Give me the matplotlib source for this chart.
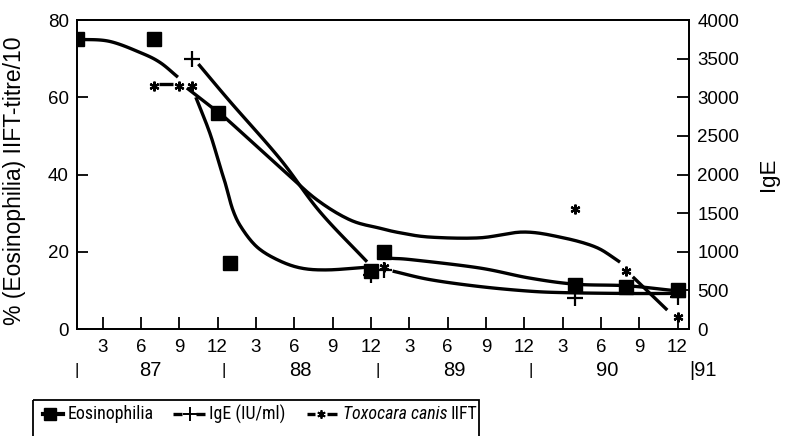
import matplotlib

matplotlib.use("Agg")
import matplotlib.pyplot as plt
import numpy as np
from matplotlib import font_manager
from matplotlib.patches import Rectangle
from matplotlib.transforms import blended_transform_factory

plt.rcParams["font.family"] = ["Liberation Sans", "DejaVu Sans"]

# x = months counted from Dec 1986 (1 = Jan 87, 48 = Dec 90)
EOS_MONTH = [1, 7, 12, 13, 24, 25, 40, 44, 48]
EOS_PCT = [75, 75, 56, 17, 15, 20, 11.5, 11, 10]
IGE_MONTH = [10, 24, 25, 40, 48]
IGE_IU = [3500, 700, 760, 400, 420]
TOXO_MONTH = [7, 9, 10, 25, 40, 44, 48]
TOXO_TITRE = [63, 63, 63, 16, 31, 15, 3]

# hand-drawn smoothed curves (broken at markers)
EOS_CURVES = [
    ([1, 3.5, 6, 7.5, 8.9], [75, 74.5, 71.5, 69, 65.2]),
    ([10.3, 11.4, 12.2, 12.6, 13.2, 13.9, 15.1, 16.7, 18.5, 20.6, 23.7],
     [60, 50.7, 42, 37.8, 30.8, 26.1, 21.2, 17.9, 15.8, 15.3, 16]),
    ([25.6, 27.3, 32.5, 36.4, 40, 44, 47.6], [18.3, 17.9, 15.8, 13.2, 11.6, 11.2, 10]),
]
IGE_CURVES = [
    ([10.5, 13, 16.9, 20, 23.7], [3430, 2940, 2200, 1520, 870]),
    ([25.7, 28.6, 32.5, 36.4, 39.3, 44, 47.6], [750, 640, 550, 490, 470, 460, 460]),
]
TOXO_CURVES = [
    ([7.4, 8.5], [63.4, 63.4]),
    ([9.6, 12, 12.8, 17.1, 19.8, 22.4, 24.7, 26.3, 28.6, 32.5, 35.9, 38.8, 41.6, 43.5],
     [62.4, 56.2, 54.1, 41.2, 33.4, 28.2, 26.1, 24.9, 23.8, 23.6, 25.1, 23.8, 21.2, 17.3]),
    ([44.5, 47.2], [13.5, 4.9]),
]

MONTH_TICKS = list(range(3, 49, 3))
YEAR_NAMES = ["87", "88", "89", "90"]
YEAR_MID = [6.75, 18.5, 30.5, 42.5]
YEAR_BREAKS = [12.5, 24.5, 36.5]

LW = 2.4
ASTERISK = (6, 2, 0)


def smooth(xs, ys, n=16):
    """Catmull-Rom through the traced knots, just for drawing."""
    p = np.column_stack([xs, ys]).astype(float)
    if len(p) < 3:
        return p[:, 0], p[:, 1]
    ext = np.vstack([2 * p[0] - p[1], p, 2 * p[-1] - p[-2]])
    t = np.linspace(0, 1, n, endpoint=False)[:, None]
    out = []
    for i in range(1, len(ext) - 2):
        p0, p1, p2, p3 = ext[i - 1], ext[i], ext[i + 1], ext[i + 2]
        out.append(0.5 * (2 * p1 + (p2 - p0) * t
                          + (2 * p0 - 5 * p1 + 4 * p2 - p3) * t ** 2
                          + (3 * p1 - p0 - 3 * p2 + p3) * t ** 3))
    out.append(p[-1][None])
    r = np.vstack(out)
    return r[:, 0], r[:, 1]


def narrow_font():
    """Legend in the scan is set in a narrow sans; use one if installed."""
    for f in font_manager.fontManager.ttflist:
        if f.name == "Liberation Sans Narrow" and f.style == "normal":
            return f.name
    for f in font_manager.fontManager.ttflist:
        if f.name in ("Roboto Condensed", "Open Sans Condensed"):
            return f.name
    return "Liberation Sans"


fig = plt.figure(figsize=(7.85, 4.36), dpi=100)
ax = fig.add_axes([77 / 785, 1 - 329 / 436, 612 / 785, 309 / 436])
ax2 = ax.twinx()

for xs, ys in EOS_CURVES + TOXO_CURVES:
    sx, sy = smooth(xs, ys)
    ax.plot(sx, sy, color="black", lw=LW, solid_capstyle="butt")
for xs, ys in IGE_CURVES:
    sx, sy = smooth(xs, ys)
    ax2.plot(sx, sy, color="black", lw=LW, solid_capstyle="butt")

ax.plot(EOS_MONTH, EOS_PCT, ls="none", marker="s", ms=9.5, color="black")
ax.plot(TOXO_MONTH, TOXO_TITRE, ls="none", marker=ASTERISK, ms=7, mew=1.6, color="black")
ax2.plot(IGE_MONTH, IGE_IU, ls="none", marker="+", ms=11, mew=1.6, color="black")

ax.set_xlim(1, 48.9)
ax.set_ylim(0, 80)
ax2.set_ylim(0, 4000)
ax.set_yticks([0, 20, 40, 60, 80])
ax2.set_yticks(range(0, 4001, 500))
ax.set_xticks(MONTH_TICKS)
ax.set_xticklabels([str((m - 1) % 12 + 1) for m in MONTH_TICKS])

for a in (ax, ax2):
    for s in a.spines.values():
        s.set_linewidth(1.3)
ax.tick_params(axis="x", direction="in", length=9, width=1.3, labelsize=13.5, pad=7)
ax.tick_params(axis="y", direction="in", length=8, width=1.3, labelsize=13.5, pad=6)
ax2.tick_params(axis="y", direction="in", length=9, width=1.3, labelsize=13.5, pad=6)

ax.set_ylabel("% (Eosinophilia) IIFT-titre/10", fontsize=16.5)
ax.yaxis.set_label_coords(-0.083, 0.48)
ax2.set_ylabel("IgE", fontsize=16, rotation=90)
ax2.yaxis.set_label_coords(1.113, 0.5)

# year row under the month ticks
tr = blended_transform_factory(ax.transData, ax.transAxes)
row_y = -0.133
for x, name in zip(YEAR_MID, YEAR_NAMES):
    ax.text(x, row_y, name, transform=tr, ha="center", va="center", fontsize=14.5)
for x in [1] + YEAR_BREAKS:
    ax.text(x, row_y, "|", transform=tr, ha="center", va="center", fontsize=12)
ax.text(48.9, row_y, "|91", transform=tr, ha="left", va="center", fontsize=14.5)

# legend box, cut off by the bottom edge like the scan
lg = fig.add_axes([0, 0, 1, 1], zorder=-1)
lg.set_xlim(0, 785)
lg.set_ylim(436, 0)
lg.axis("off")
lg.add_patch(Rectangle((33, 400), 446, 60, fill=False, lw=1.3, ec="black"))

leg_font = narrow_font()
renderer = fig.canvas.get_renderer()
probe = lg.text(0, 0, "Eosinophilia", fontsize=14, family=leg_font)
w = probe.get_window_extent(renderer).width
probe.remove()
leg_size = 14 * 86 / w

ly = 414
lg.plot([43, 63], [ly, ly], color="black", lw=3)
lg.plot([50], [ly], marker="s", ms=9, color="black")
lg.text(68, ly, "Eosinophilia", va="center", fontsize=leg_size, family=leg_font)
lg.plot([173, 182], [ly, ly], color="black", lw=2.4, solid_capstyle="butt")
lg.plot([189.5], [ly], marker="+", ms=10, mew=1.4, color="black")
lg.plot([196, 205], [ly, ly], color="black", lw=2.4, solid_capstyle="butt")
lg.text(209, ly, "IgE (IU/ml)", va="center", fontsize=leg_size, family=leg_font)
lg.plot([307, 315], [ly, ly], color="black", lw=2.4, solid_capstyle="butt")
lg.plot([321], [ly], marker=ASTERISK, ms=6, mew=1.3, color="black")
lg.plot([327, 337], [ly, ly], color="black", lw=2.4, solid_capstyle="butt")
t1 = lg.text(343, ly, "Toxocara canis", va="center", fontsize=leg_size,
             family=leg_font, style="italic")
bb = t1.get_window_extent(renderer)
x_end = lg.transData.inverted().transform((bb.x1, bb.y0))[0]
lg.text(x_end + 3, ly, "IIFT", va="center", fontsize=leg_size, family=leg_font)

fig.savefig("out.png", dpi=100)
